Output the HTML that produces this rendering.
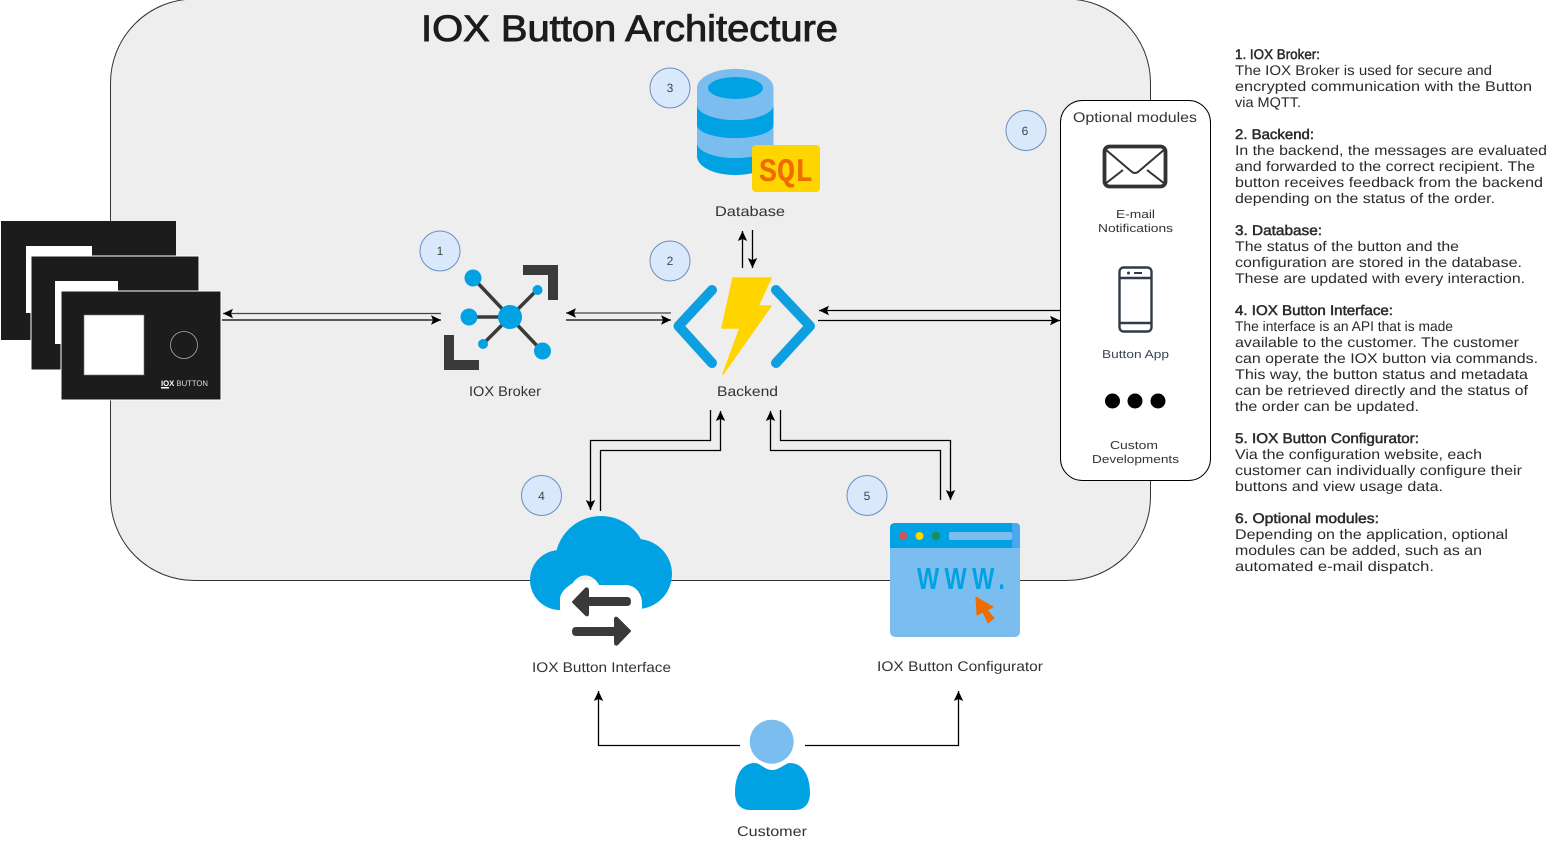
<!DOCTYPE html>
<html><head><meta charset="utf-8"><style>
html,body{margin:0;padding:0;background:#fff}
svg{display:block}
text{font-family:"Liberation Sans",sans-serif;fill:#333;text-rendering:geometricPrecision}
.r text,text.r{font-size:14px;fill:#2b2b2b}
.h{stroke:#2b2b2b;stroke-width:.5px}
.c{fill:none;stroke:#000;stroke-width:1.3}
.n{font-size:12px;fill:#444}
</style></head><body>
<svg width="1551" height="841" viewBox="0 0 1551 841" xmlns="http://www.w3.org/2000/svg">
<defs>
<marker id="a" markerUnits="userSpaceOnUse" markerWidth="12" markerHeight="12" refX="11" refY="6" orient="auto"><path d="M11 6L1 1.300L3 6L1 10.700Z" fill="#000"/></marker>
<clipPath id="below"><rect x="500" y="580" width="200" height="80"/></clipPath>
</defs>
<rect x="110.500" y="-1" width="1040" height="581.500" rx="84" ry="84" fill="#eeeeee" stroke="#333" stroke-width="1"/>
<text x="421" y="41" font-size="37" textLength="417" lengthAdjust="spacingAndGlyphs" style="fill:#1c1c1c;stroke:#1c1c1c;stroke-width:.9px">IOX Button Architecture</text>

<!-- cards -->
<rect x="1" y="221" width="175" height="119" fill="#1c1c1c"/><rect x="26" y="246" width="66" height="67" fill="#fff"/>
<rect x="31" y="256" width="168" height="114" fill="#1c1c1c" stroke="#fff"/><rect x="55" y="281" width="63" height="63" fill="#fff"/>
<rect x="61" y="291" width="160" height="109" fill="#1c1c1c" stroke="#fff"/><rect x="84" y="315" width="60" height="60" fill="#fff" stroke="#777" stroke-width=".6"/>
<circle cx="184" cy="345" r="13.500" fill="none" stroke="#aaa" stroke-width=".8"/>
<text x="161" y="386" font-size="8" textLength="47" lengthAdjust="spacingAndGlyphs" style="fill:#ddd"><tspan font-weight="bold" fill="#fff">IOX</tspan> BUTTON</text>
<rect x="161" y="387" width="8" height="1.500" fill="#fff"/>

<!-- connectors -->
<path class="c" style="stroke:#444" marker-end="url(#a)" d="M441 313.500H223"/>
<path class="c" marker-end="url(#a)" d="M222 320H441"/>
<path class="c" style="stroke:#444" marker-end="url(#a)" d="M671 313H566"/>
<path class="c" marker-end="url(#a)" d="M566 320H671"/>
<path class="c" marker-end="url(#a)" d="M1060 310.500H819"/>
<path class="c" marker-end="url(#a)" d="M818 320.500H1060"/>
<path class="c" marker-end="url(#a)" d="M742.500 268V231"/>
<path class="c" marker-end="url(#a)" d="M752.500 230V268"/>
<path class="c" marker-end="url(#a)" d="M710.500 410V440.500H590.500V510"/>
<path class="c" marker-end="url(#a)" d="M600.500 511V450.500H720.500V411"/>
<path class="c" marker-end="url(#a)" d="M940.500 500V450.500H770.500V411"/>
<path class="c" marker-end="url(#a)" d="M780.500 410V440.500H950.500V500"/>
<path class="c" marker-end="url(#a)" d="M740 745.500H598.500V691"/>
<path class="c" marker-end="url(#a)" d="M805 745.500H958.500V691"/>

<!-- number circles -->
<g fill="#dae8fc" stroke="#6c8ebf">
<circle cx="440" cy="251" r="20"/><circle cx="670" cy="261" r="20"/><circle cx="670" cy="88" r="20"/>
<circle cx="541.500" cy="495.500" r="20"/><circle cx="867" cy="495.500" r="20"/><circle cx="1026" cy="130.500" r="20"/>
</g>
<g class="n" text-anchor="middle">
<text class="n" x="440" y="255">1</text><text class="n" x="670" y="265">2</text><text class="n" x="670" y="92">3</text>
<text class="n" x="541.500" y="500">4</text><text class="n" x="867" y="500">5</text><text class="n" x="1025" y="135">6</text>
</g>

<!-- broker -->
<g stroke="#3a3a3a" stroke-width="3.500" fill="none"><path d="M473 278L542 351M469 317H510M483 344L537 290"/></g>
<g fill="#00a2e3"><circle cx="510" cy="317" r="12"/><circle cx="473" cy="278" r="8.500"/><circle cx="469" cy="317" r="8.500"/><circle cx="483" cy="344" r="5"/><circle cx="542.500" cy="351" r="8.500"/><circle cx="537.500" cy="290" r="5"/></g>
<path d="M523 265H558V300H548V275H523Z M444 335H454V360H479V370H444Z" fill="#3a3a3a"/>
<text x="469" y="396" font-size="14" textLength="72" lengthAdjust="spacingAndGlyphs">IOX Broker</text>

<!-- backend -->
<path d="M712 290L678.500 326L712 363M776 290L810 326L776 363" fill="none" stroke="#0d9fe0" stroke-width="10" stroke-linecap="round" stroke-linejoin="round"/>
<path d="M733 278H771L758 306H771L723 374L740 328H722Z" fill="#ffd500" stroke="#ffd500" stroke-width="1.500" stroke-linejoin="round"/>
<text x="717" y="396" font-size="14" textLength="61" lengthAdjust="spacingAndGlyphs">Backend</text>

<!-- database -->
<path d="M697 88A38 19 0 0 1 773.500 88V156A38 19 0 0 1 697 156Z" fill="#7bbdee"/>
<path d="M697 105A38 15 0 0 0 773.500 105V125A38 13 0 0 1 697 125Z" fill="#00a2e3"/>
<path d="M697 143A38 15 0 0 0 773.500 143V156A38 19 0 0 1 697 156Z" fill="#00a2e3"/>
<ellipse cx="735.500" cy="88" rx="27.500" ry="11" fill="#00a2e3"/>
<rect x="752" y="145" width="68" height="47" rx="4" fill="#ffd500"/>
<text x="759" y="181" font-size="33" font-weight="bold" textLength="54" lengthAdjust="spacingAndGlyphs" style="font-family:'Liberation Mono',monospace;fill:#ef6c00">SQL</text>
<text x="715" y="216" font-size="14" textLength="70" lengthAdjust="spacingAndGlyphs">Database</text>

<!-- cloud -->
<g fill="#00a2e3"><circle cx="601" cy="562" r="46"/><circle cx="560" cy="580" r="30"/><circle cx="637" cy="574" r="35"/><rect x="560" y="570" width="77" height="40"/></g>
<path d="M560 600C560 592 567 587 573 583C579 573 592 572 599 585H625C636 585 642 594 642 604C642 612 640 620 637 622H562C560 614 560 606 560 600Z" fill="#eee"/>
<g clip-path="url(#below)"><path d="M560 600C560 592 567 587 573 583C579 573 592 572 599 585H625C636 585 642 594 642 604C642 612 640 620 637 622H562C560 614 560 606 560 600Z" fill="#fff"/></g>
<path d="M573 602L586 588.500Q588 588 588 590V598H627Q630 598 630 601.500Q630 605 627 605H588V614Q588 616 586 615Z" fill="#3a3a3a" stroke="#3a3a3a" stroke-width="2" stroke-linejoin="round"/>
<path d="M630 631L617 644.500Q615 645 615 643V635H576Q573 635 573 631.500Q573 628 576 628H615V619Q615 617 617 618Z" fill="#3a3a3a" stroke="#3a3a3a" stroke-width="2" stroke-linejoin="round"/>
<text x="532" y="672" font-size="14" textLength="139" lengthAdjust="spacingAndGlyphs">IOX Button Interface</text>

<!-- browser -->
<rect x="890" y="523" width="130" height="114" rx="5" fill="#7bbdee"/>
<path d="M895 523H1015Q1020 523 1020 528V548H890V528Q890 523 895 523Z" fill="#00a2e3"/>
<path d="M1012 523H1015Q1020 523 1020 528V548H1012Z" fill="#4aa8f0"/>
<circle cx="903" cy="536" r="4" fill="#d9534f"/><circle cx="919.500" cy="536" r="4" fill="#ffd500"/><circle cx="936" cy="536" r="4" fill="#1e8e4e"/>
<rect x="949" y="532" width="63" height="8" rx="2" fill="#7bbdee"/>
<text transform="translate(917 589) scale(.77 1)" font-size="30.500" font-weight="bold" letter-spacing="7" style="fill:#00a2e3">WWW.</text>
<path d="M976 597L993 607L987 610L994 618L988 623L983 612L977 615Z" fill="#ef6c00" stroke="#ef6c00" stroke-linejoin="round"/>
<text x="877" y="671" font-size="14" textLength="166" lengthAdjust="spacingAndGlyphs">IOX Button Configurator</text>

<!-- customer -->
<circle cx="771.700" cy="741.700" r="22" fill="#7bbdee"/>
<path d="M735 793C735 775 742 763 755 763C760 763 765 770 772 770C780 770 785 763 790 763C803 763 810 776 810 793C810 804 804 810 795 810H750C741 810 735 804 735 793Z" fill="#00a2e3"/>
<text x="737" y="836" font-size="14" textLength="70" lengthAdjust="spacingAndGlyphs">Customer</text>

<!-- optional modules -->
<rect x="1060.500" y="100.500" width="150" height="380" rx="22" ry="22" fill="#fff" stroke="#000" stroke-width="1"/>
<text x="1073" y="122" font-size="14" textLength="124" lengthAdjust="spacingAndGlyphs">Optional modules</text>
<rect x="1104.500" y="146.500" width="61" height="40" rx="5" fill="none" stroke="#333" stroke-width="3.800"/>
<path d="M1105 149L1132 172Q1135 174 1138 172L1165 149M1105 184L1123 170M1165 184L1147 170" fill="none" stroke="#333" stroke-width="2"/>
<text x="1116" y="218" font-size="11.500" textLength="39" lengthAdjust="spacingAndGlyphs">E-mail</text>
<text x="1098" y="232" font-size="11.500" textLength="75" lengthAdjust="spacingAndGlyphs">Notifications</text>
<rect x="1119.500" y="267.500" width="32" height="64" rx="4" fill="none" stroke="#2f3b4a" stroke-width="2.400"/>
<path d="M1120 278H1151M1120 323H1151" stroke="#2f3b4a" stroke-width="2.400" fill="none"/>
<circle cx="1128.500" cy="273" r="1.500" fill="#2f3b4a"/><rect x="1134" y="272" width="8" height="2" fill="#2f3b4a"/>
<text x="1102" y="358" font-size="11.500" textLength="67" lengthAdjust="spacingAndGlyphs" style="fill:#3a4452">Button App</text>
<g fill="#000"><circle cx="1112.500" cy="401" r="7.500"/><circle cx="1135" cy="401" r="7.500"/><circle cx="1158" cy="401" r="7.500"/></g>
<text x="1110" y="449" font-size="11.500" textLength="48" lengthAdjust="spacingAndGlyphs">Custom</text>
<text x="1092" y="463" font-size="11.500" textLength="87" lengthAdjust="spacingAndGlyphs">Developments</text>

<!-- description -->
<g class="r">
<text class="h" x="1235" y="59" textLength="85" lengthAdjust="spacingAndGlyphs">1. IOX Broker:</text>
<text x="1235" y="75" textLength="257" lengthAdjust="spacingAndGlyphs">The IOX Broker is used for secure and</text>
<text x="1235" y="91" textLength="297" lengthAdjust="spacingAndGlyphs">encrypted communication with the Button</text>
<text x="1235" y="107" textLength="66" lengthAdjust="spacingAndGlyphs">via MQTT.</text>
<text class="h" x="1235" y="139" textLength="79" lengthAdjust="spacingAndGlyphs">2. Backend:</text>
<text x="1235" y="155" textLength="312" lengthAdjust="spacingAndGlyphs">In the backend, the messages are evaluated</text>
<text x="1235" y="171" textLength="300" lengthAdjust="spacingAndGlyphs">and forwarded to the correct recipient. The</text>
<text x="1235" y="187" textLength="308" lengthAdjust="spacingAndGlyphs">button receives feedback from the backend</text>
<text x="1235" y="203" textLength="260" lengthAdjust="spacingAndGlyphs">depending on the status of the order.</text>
<text class="h" x="1235" y="235" textLength="87" lengthAdjust="spacingAndGlyphs">3. Database:</text>
<text x="1235" y="251" textLength="224" lengthAdjust="spacingAndGlyphs">The status of the button and the</text>
<text x="1235" y="267" textLength="287" lengthAdjust="spacingAndGlyphs">configuration are stored in the database.</text>
<text x="1235" y="283" textLength="290" lengthAdjust="spacingAndGlyphs">These are updated with every interaction.</text>
<text class="h" x="1235" y="315" textLength="158" lengthAdjust="spacingAndGlyphs">4. IOX Button Interface:</text>
<text x="1235" y="331" textLength="218" lengthAdjust="spacingAndGlyphs">The interface is an API that is made</text>
<text x="1235" y="347" textLength="284" lengthAdjust="spacingAndGlyphs">available to the customer. The customer</text>
<text x="1235" y="363" textLength="303" lengthAdjust="spacingAndGlyphs">can operate the IOX button via commands.</text>
<text x="1235" y="379" textLength="293" lengthAdjust="spacingAndGlyphs">This way, the button status and metadata</text>
<text x="1235" y="395" textLength="293" lengthAdjust="spacingAndGlyphs">can be retrieved directly and the status of</text>
<text x="1235" y="411" textLength="184" lengthAdjust="spacingAndGlyphs">the order can be updated.</text>
<text class="h" x="1235" y="443" textLength="184" lengthAdjust="spacingAndGlyphs">5. IOX Button Configurator:</text>
<text x="1235" y="459" textLength="247" lengthAdjust="spacingAndGlyphs">Via the configuration website, each</text>
<text x="1235" y="475" textLength="287" lengthAdjust="spacingAndGlyphs">customer can individually configure their</text>
<text x="1235" y="491" textLength="208" lengthAdjust="spacingAndGlyphs">buttons and view usage data.</text>
<text class="h" x="1235" y="523" textLength="144" lengthAdjust="spacingAndGlyphs">6. Optional modules:</text>
<text x="1235" y="539" textLength="273" lengthAdjust="spacingAndGlyphs">Depending on the application, optional</text>
<text x="1235" y="555" textLength="247" lengthAdjust="spacingAndGlyphs">modules can be added, such as an</text>
<text x="1235" y="571" textLength="199" lengthAdjust="spacingAndGlyphs">automated e-mail dispatch.</text>
</g>
</svg>
</body></html>
